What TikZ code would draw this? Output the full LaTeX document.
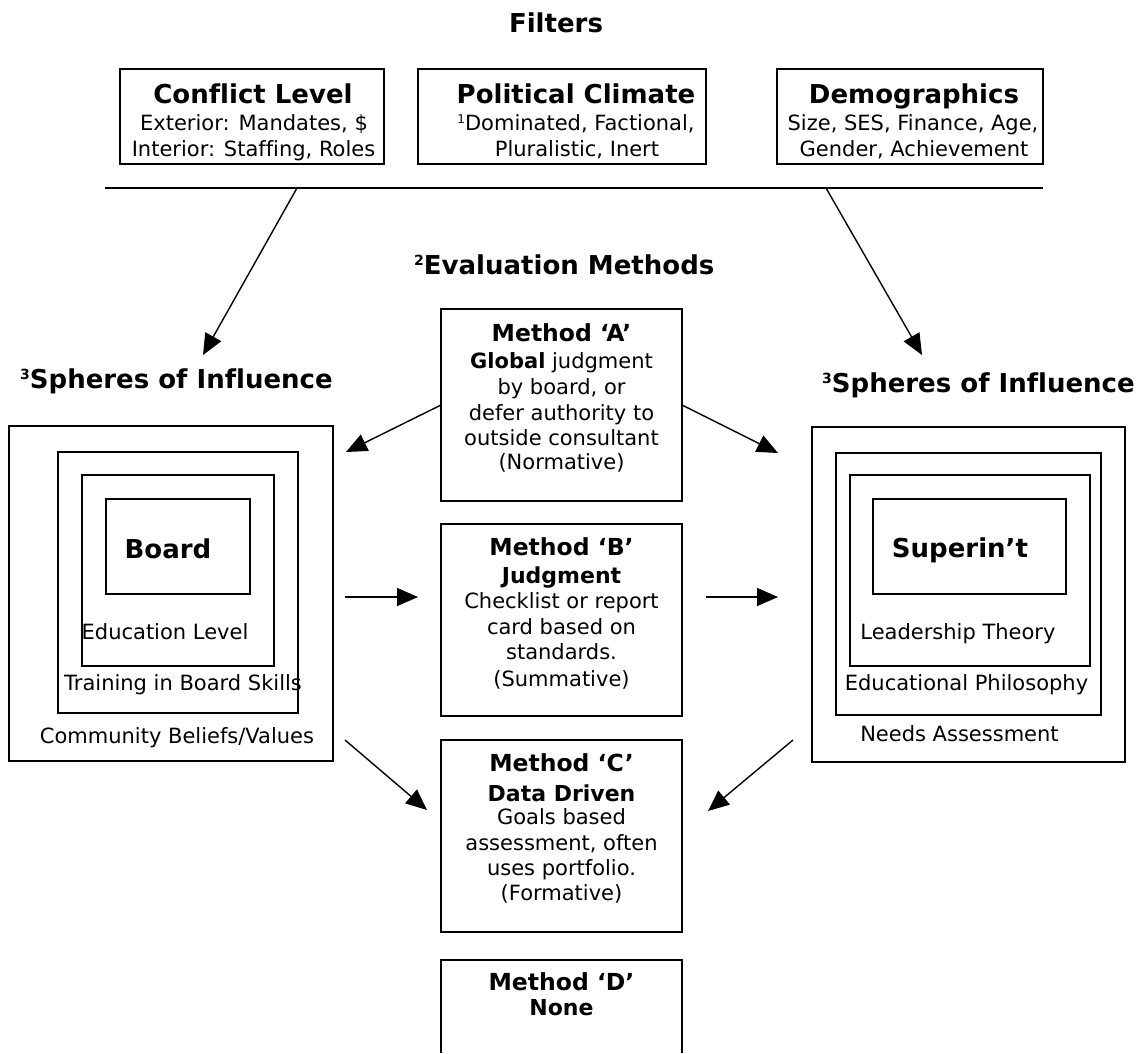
\documentclass[tikz,border=0pt]{standalone}
\usepackage{fontspec}
\setmainfont{DejaVu Sans}[Ligatures=NoCommon]
\usetikzlibrary{arrows.meta}
\newcommand\supnum[3]{\raisebox{#1}{\fontsize{#2}{#2}\selectfont #3}}
\begin{document}
\begin{tikzpicture}[x=1pt,y=-1pt,
  frame/.style={draw, line width=1.5pt, inner sep=0pt},
  body/.style={font=\fontsize{21}{25}\selectfont, inner sep=0pt, anchor=base},
  ttl/.style={font=\fontsize{23.5}{28}\selectfont\bfseries, inner sep=0pt, anchor=base},
  sub/.style={font=\fontsize{22}{26}\selectfont\bfseries, inner sep=0pt, anchor=base},
  head/.style={font=\fontsize{26}{30}\selectfont\bfseries, inner sep=0pt, anchor=base},
  arr/.style={line width=1.4pt, -{Triangle[length=21pt,width=18pt]}},
  ln/.style={line width=1.4pt}
]
\useasboundingbox (0,0) rectangle (1146,1053);

% ---- Filters ----
\node[head] (filters) at (556,32) {Filters};

\node[frame, minimum width=264pt, minimum height=95pt] (conf) at (252,116.5) {};
\node[head] (conft) at (253,103) {Conflict Level};
\node[body] (conf1) at (254,130.5) {Exterior: Mandates, \$};
\node[body] (conf2) at (253.5,156) {Interior: Staffing, Roles};

\node[frame, minimum width=288pt, minimum height=95pt] (pol) at (562,116.5) {};
\node[head] (polt) at (576,103) {Political Climate};
\node[body] (pol1) at (576,130.5) {\supnum{7pt}{12}{1}Dominated, Factional,};
\node[body] (pol2) at (577,156) {Pluralistic, Inert};

\node[frame, minimum width=266pt, minimum height=95pt] (dem) at (910,116.5) {};
\node[head] (demt) at (914,103) {Demographics};
\node[body] (dem1) at (913,130.5) {Size, SES, Finance, Age,};
\node[body] (dem2) at (914,156) {Gender, Achievement};

\coordinate (lineL) at (105,188);
\coordinate (lineR) at (1043,188);
\draw[ln] (lineL) -- (lineR);
\coordinate (fromL) at (297,188);
\coordinate (fromR) at (826,188);
\coordinate (tipL) at (203,355);
\coordinate (tipR) at (922,355);
\draw[arr] (fromL) -- (tipL);
\draw[arr] (fromR) -- (tipR);

% ---- headings ----
\node[head, anchor=base west] (evalm) at (414,274) {\supnum{9pt}{14}{2}Evaluation Methods};
\node[head, anchor=base west] (sphL) at (20,388) {\supnum{9pt}{14}{3}Spheres of Influence};
\node[head, anchor=base west] (sphR) at (822,392) {\supnum{9pt}{14}{3}Spheres of Influence};

% ---- Method A ----
\node[frame, minimum width=241pt, minimum height=192pt] (mA) at (561.5,405) {};
\node[ttl] (mA0) at (561.5,341) {Method ‘A’};
\node[body] (mA1) at (561.5,368.5) {\textbf{Global} judgment};
\node[body] (mA2) at (561.5,394.5) {by board, or};
\node[body] (mA3) at (561.5,420.5) {defer authority to};
\node[body] (mA4) at (561.5,445.5) {outside consultant};
\node[body] (mA5) at (561.5,469.5) {(Normative)};

% ---- Method B ----
\node[frame, minimum width=241pt, minimum height=192pt] (mB) at (561.5,620) {};
\node[ttl] (mB0) at (561.5,555.5) {Method ‘B’};
\node[sub] (mB1) at (561.5,583) {Judgment};
\node[body] (mB2) at (561.5,608.5) {Checklist or report};
\node[body] (mB3) at (561.5,634.5) {card based on};
\node[body] (mB4) at (561.5,659.5) {standards.};
\node[body] (mB5) at (561.5,686.5) {(Summative)};

% ---- Method C ----
\node[frame, minimum width=241pt, minimum height=192pt] (mC) at (561.5,836) {};
\node[ttl] (mC0) at (561.5,771) {Method ‘C’};
\node[sub] (mC1) at (561.5,801) {Data Driven};
\node[body] (mC2) at (561.5,824.5) {Goals based};
\node[body] (mC3) at (561.5,850.5) {assessment, often};
\node[body] (mC4) at (561.5,875.5) {uses portfolio.};
\node[body] (mC5) at (561.5,900.5) {(Formative)};

% ---- Method D ----
\node[inner sep=0pt, minimum width=241pt, minimum height=93pt] (mD) at (561.5,1006.5) {};
\draw[line width=1.5pt] (mD.south west) -- (mD.north west) -- (mD.north east) -- (mD.south east);
\node[ttl] (mD0) at (561.5,990) {Method ‘D’};
\node[sub] (mD1) at (561.5,1015) {None};

% ---- Left spheres ----
\node[frame, minimum width=324pt, minimum height=335pt] (L1) at (171,593.5) {};
\node[frame, minimum width=240pt, minimum height=261pt] (L2) at (178,582.5) {};
\node[frame, minimum width=192pt, minimum height=191pt] (L3) at (178,570.5) {};
\node[frame, minimum width=144pt, minimum height=95pt] (L4) at (178,546.5) {};
\node[head] (board) at (168,558) {Board};
\node[body] (Ledu) at (165,639.5) {Education Level};
\node[body] (Ltrn) at (183,690.5) {Training in Board Skills};
\node[body] (Lcom) at (177,743.5) {Community Beliefs/Values};

% ---- Right spheres ----
\node[frame, minimum width=313pt, minimum height=335pt] (R1) at (968.5,594.5) {};
\node[frame, minimum width=265pt, minimum height=262pt] (R2) at (968.5,584) {};
\node[frame, minimum width=240pt, minimum height=191pt] (R3) at (970,570.5) {};
\node[frame, minimum width=193pt, minimum height=95pt] (R4) at (969.5,546.5) {};
\node[head] (sup) at (960,557) {Superin’t};
\node[body] (Rlead) at (958,639.5) {Leadership Theory};
\node[body] (Redu) at (966.5,690.5) {Educational Philosophy};
\node[body] (Rneed) at (959.5,741.5) {Needs Assessment};

% ---- connectors ----
\coordinate (aLs) at (441,405);
\coordinate (aLt) at (346,452);
\coordinate (aRs) at (682,405);
\coordinate (aRt) at (778,453);
\draw[arr] (aLs) -- (aLt);
\draw[arr] (aRs) -- (aRt);
\coordinate (bLs) at (345,597);
\coordinate (bLt) at (418,597);
\coordinate (bRs) at (706,597);
\coordinate (bRt) at (778,597);
\draw[arr] (bLs) -- (bLt);
\draw[arr] (bRs) -- (bRt);
\coordinate (cLs) at (345,740);
\coordinate (cLt) at (427,810);
\coordinate (cRs) at (793,740);
\coordinate (cRt) at (708,811);
\draw[arr] (cLs) -- (cLt);
\draw[arr] (cRs) -- (cRt);
\end{tikzpicture}
\end{document}
